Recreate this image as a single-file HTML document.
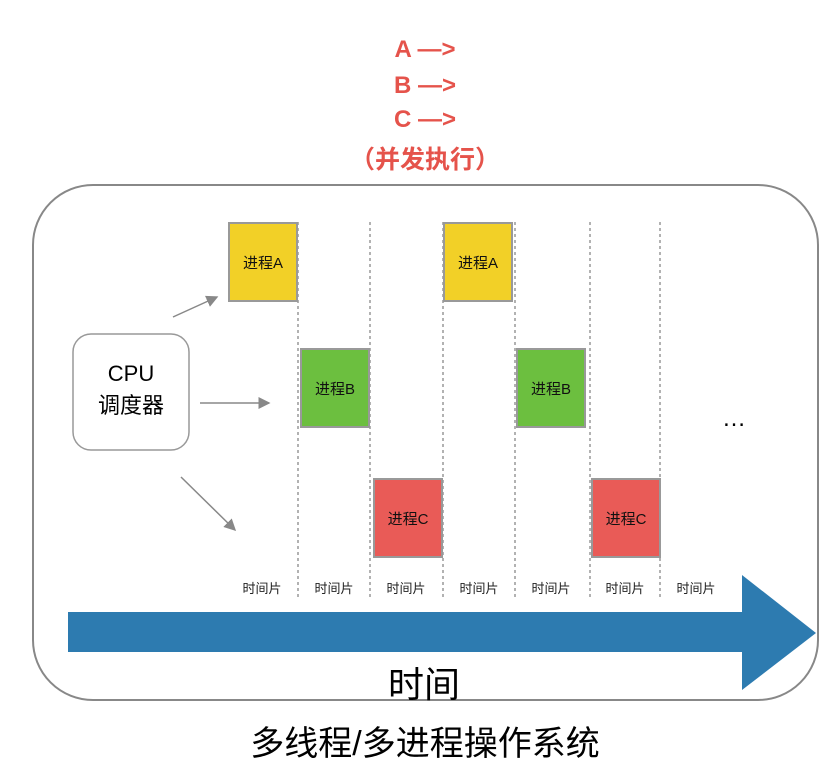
<!DOCTYPE html>
<html><head><meta charset="utf-8"><style>
body{margin:0;width:834px;height:759px;background:#fff;position:relative;overflow:hidden;font-family:"Liberation Sans","Noto Sans CJK SC",sans-serif}
.a{position:absolute}
.red{color:#e5534b;font-weight:bold;font-size:24px;text-align:center;left:340px;width:170px}
.p{position:absolute;width:70px;height:80px;border:2px solid #999;box-sizing:border-box;display:flex;align-items:center;justify-content:center;font-size:15px;color:#111}
.t{position:absolute;top:578px;font-size:13px;width:72px;text-align:center;color:#222}
</style></head><body>
<div class="a red" style="top:36px">A —&gt;</div>
<div class="a red" style="top:72px">B —&gt;</div>
<div class="a red" style="top:106px">C —&gt;</div>
<div class="a red" style="top:140px;font-size:25px">（并发执行）</div>
<svg class="a" style="left:0;top:0" width="834" height="759">
<rect x="33" y="185" width="785" height="515" rx="60" fill="none" stroke="#888" stroke-width="2"/>
<g stroke="#999" stroke-width="1.5" stroke-dasharray="3,3">
<line x1="298" y1="222" x2="298" y2="598"/><line x1="370" y1="222" x2="370" y2="598"/>
<line x1="443" y1="222" x2="443" y2="598"/><line x1="515" y1="222" x2="515" y2="598"/>
<line x1="590" y1="222" x2="590" y2="598"/><line x1="660" y1="222" x2="660" y2="598"/>
</g>
<rect x="73" y="334" width="116" height="116" rx="18" fill="#fff" stroke="#999" stroke-width="1.5"/>
<defs><marker id="m" markerWidth="8" markerHeight="8" refX="7" refY="4" orient="auto"><path d="M0,0 L8,4 L0,8z" fill="#888"/></marker></defs>
<g stroke="#888" stroke-width="1.5" marker-end="url(#m)">
<line x1="173" y1="317" x2="217" y2="297"/>
<line x1="200" y1="403" x2="269" y2="403"/>
<line x1="181" y1="477" x2="235" y2="530"/>
</g>
<path d="M68,612 L742,612 L742,575 L816,633 L742,690 L742,652 L68,652z" fill="#2d7bb0"/>
</svg>
<div class="a" style="left:73px;top:358px;width:116px;text-align:center;font-size:22px;line-height:32px">CPU<br>调度器</div>
<div class="p" style="left:228px;top:222px;background:#f2d027">进程A</div>
<div class="p" style="left:300px;top:348px;background:#6cbf3f">进程B</div>
<div class="p" style="left:373px;top:478px;background:#e95b57">进程C</div>
<div class="p" style="left:443px;top:222px;background:#f2d027">进程A</div>
<div class="p" style="left:516px;top:348px;background:#6cbf3f">进程B</div>
<div class="p" style="left:591px;top:478px;background:#e95b57">进程C</div>
<div class="a" style="left:722px;top:405px;font-size:24px">…</div>
<div class="t" style="left:226px">时间片</div><div class="t" style="left:298px">时间片</div>
<div class="t" style="left:370px">时间片</div><div class="t" style="left:443px">时间片</div>
<div class="t" style="left:515px">时间片</div><div class="t" style="left:589px">时间片</div>
<div class="t" style="left:660px">时间片</div>
<div class="a" style="left:324px;top:656px;width:200px;text-align:center;font-size:36px">时间</div>
<div class="a" style="left:125px;top:716px;width:600px;text-align:center;font-size:34px">多线程/多进程操作系统</div>
</body></html>
